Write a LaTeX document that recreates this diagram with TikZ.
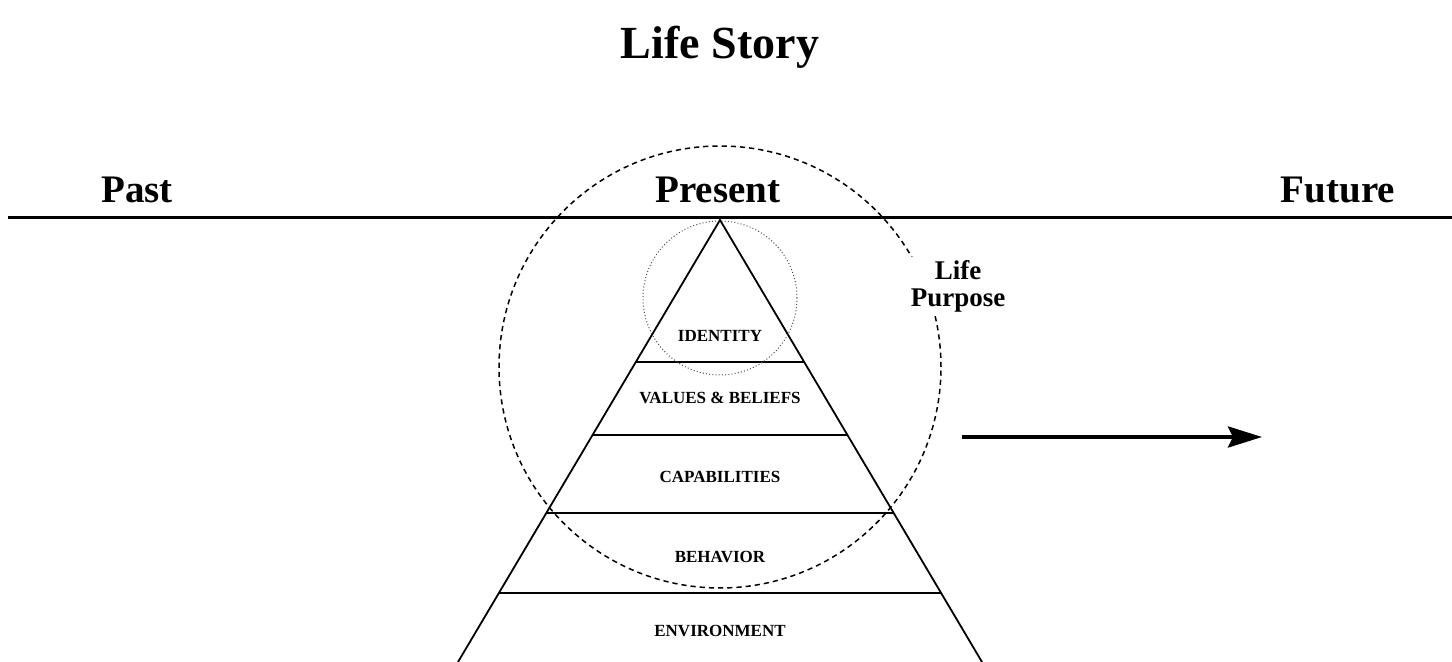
\documentclass[tikz,border=0pt]{standalone}
\usepackage{fontspec}
\setmainfont{Liberation Serif}
\usetikzlibrary{calc,arrows.meta}
\tikzset{
  biglabel/.style={font=\bfseries\fontsize{19.5}{22}\selectfont, inner sep=0pt},
  titlelabel/.style={font=\bfseries\fontsize{23}{26}\selectfont, inner sep=0pt},
  layerlabel/.style={font=\bfseries\fontsize{8.5}{10}\selectfont, inner sep=0pt},
  purposelabel/.style={font=\bfseries\fontsize{13.5}{13.5}\selectfont, inner sep=1.5pt, align=center, fill=white},
  pyrline/.style={line width=0.9pt},
  timeline/.style={line width=1.5pt},
  bigcircle/.style={line width=0.75pt, dash pattern=on 2.6pt off 2pt},
  smallcircle/.style={line width=0.5pt, black!70, dash pattern=on 0.5pt off 1.1pt},
}
\begin{document}
\begin{tikzpicture}[x=0.5pt,y=-0.5pt]
\useasboundingbox (0,0) rectangle (1452,662);
% title and time labels
\node[titlelabel] (title) at (720,47) {Life Story};
\node[biglabel] (past) at (137,190) {Past};
\node[biglabel] (present) at (718,190) {Present};
\node[biglabel] (future) at (1338,190) {Future};
% time line
\coordinate (tl) at (8,218);
\coordinate (tr) at (1452,218);
\draw[timeline] (tl) -- (tr);
% pyramid
\coordinate (apex) at (720,220);
\coordinate (bl) at (458,662);
\coordinate (br) at (982,662);
\draw[pyrline] (bl) -- (apex) -- (br);
\foreach \t in {0.3213,0.4864,0.6629,0.8439}
  \draw[pyrline] ($(apex)!\t!(bl)$) -- ($(apex)!\t!(br)$);
\node[layerlabel] (identity) at (720,336) {IDENTITY};
\node[layerlabel] (values) at (720,398) {VALUES \& BELIEFS};
\node[layerlabel] (capab) at (720,477) {CAPABILITIES};
\node[layerlabel] (behav) at (720,557) {BEHAVIOR};
\node[layerlabel] (envir) at (720,631) {ENVIRONMENT};
% circles
\node[draw, smallcircle, circle, minimum size=77pt, inner sep=0pt] (small) at (720,298) {};
\node[draw, bigcircle, circle, minimum size=221pt, inner sep=0pt] (big) at (720,367) {};
% life purpose
\node[purposelabel] (purpose) at (958,286) {Life\\Purpose};
% arrow
\coordinate (as) at (962,437);
\coordinate (ae) at (1262,437);
\draw[line width=2pt, -{Stealth[length=17pt,width=10.5pt,inset=2.5pt]}] (as) -- (ae);
\end{tikzpicture}
\end{document}
